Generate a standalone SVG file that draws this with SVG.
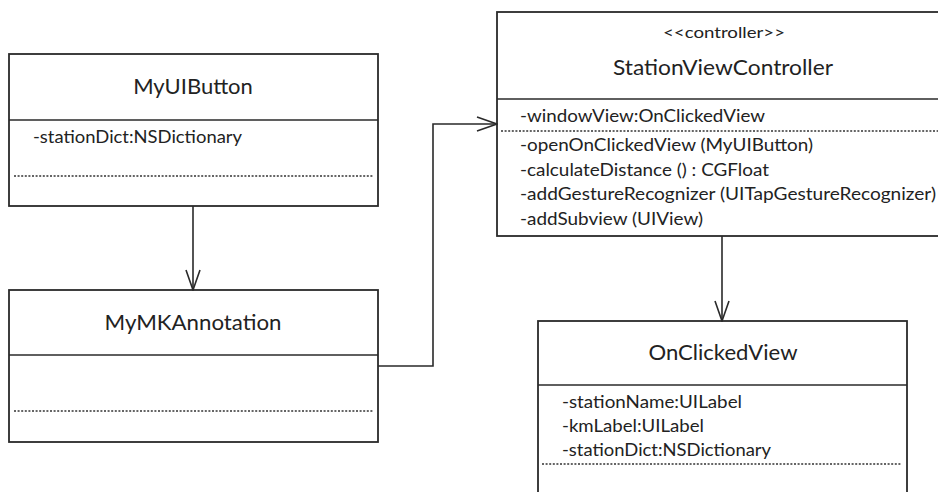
<svg xmlns="http://www.w3.org/2000/svg" width="938" height="492" viewBox="0 0 938 492">
<defs>
<marker id="open" viewBox="-1 -1 22 16" refX="20" refY="7" markerWidth="22" markerHeight="16" markerUnits="userSpaceOnUse" orient="auto">
<path d="M0,0 L20,7 L0,14" fill="none" stroke="#2a2a2a" stroke-width="1.6"/>
</marker>
<style>
.box{fill:#fff;stroke:#2a2a2a;stroke-width:1.8}
.div{stroke:#2a2a2a;stroke-width:1.6}
.dot{stroke:#333;stroke-width:1.3;stroke-dasharray:2 1.6}
.t{font-family:Lato,"Open Sans","Liberation Sans",sans-serif;fill:#222}
.title{font-size:22px;text-anchor:middle}
.st{font-size:16px;text-anchor:middle}
.m{font-size:18px}
.c{fill:none;stroke:#2a2a2a;stroke-width:1.6}
</style>
</defs>
<rect width="938" height="492" fill="#fff"/>
<g id="MyUIButton">
<rect class="box" x="9" y="54" width="369" height="152"/>
<line class="div" x1="9" y1="120" x2="378" y2="120"/>
<text class="t title" x="193" y="94">MyUIButton</text>
<text class="t m" x="33" y="143" textLength="209" lengthAdjust="spacingAndGlyphs">-stationDict:NSDictionary</text>
<line class="dot" x1="14" y1="176" x2="373" y2="176"/>
</g>
<g id="MyMKAnnotation">
<rect class="box" x="9" y="290" width="369" height="152"/>
<line class="div" x1="9" y1="355" x2="378" y2="355"/>
<text class="t title" x="193" y="330" textLength="177" lengthAdjust="spacingAndGlyphs">MyMKAnnotation</text>
<line class="dot" x1="14" y1="411" x2="373" y2="411"/>
</g>
<g id="StationViewController">
<rect class="box" x="497" y="12" width="460" height="224"/>
<line class="div" x1="497" y1="99" x2="938" y2="99"/>
<text class="t st" x="724" y="38" textLength="122" lengthAdjust="spacingAndGlyphs">&lt;&lt;controller&gt;&gt;</text>
<text class="t title" x="723" y="75" textLength="220" lengthAdjust="spacingAndGlyphs">StationViewController</text>
<text class="t m" x="520" y="122" textLength="245" lengthAdjust="spacingAndGlyphs">-windowView:OnClickedView</text>
<line class="dot" x1="501" y1="131" x2="938" y2="131"/>
<text class="t m" x="520" y="151" textLength="293" lengthAdjust="spacingAndGlyphs">-openOnClickedView (MyUIButton)</text>
<text class="t m" x="520" y="176" textLength="249" lengthAdjust="spacingAndGlyphs">-calculateDistance () : CGFloat</text>
<text class="t m" x="520" y="200" textLength="416" lengthAdjust="spacingAndGlyphs">-addGestureRecognizer (UITapGestureRecognizer)</text>
<text class="t m" x="520" y="225" textLength="183" lengthAdjust="spacingAndGlyphs">-addSubview (UIView)</text>
</g>
<g id="OnClickedView">
<rect class="box" x="538" y="321" width="369" height="200"/>
<line class="div" x1="538" y1="385" x2="907" y2="385"/>
<text class="t title" x="723" y="360" textLength="149" lengthAdjust="spacingAndGlyphs">OnClickedView</text>
<text class="t m" x="562" y="408" textLength="180" lengthAdjust="spacingAndGlyphs">-stationName:UILabel</text>
<text class="t m" x="562" y="432" textLength="142" lengthAdjust="spacingAndGlyphs">-kmLabel:UILabel</text>
<text class="t m" x="562" y="456" textLength="209" lengthAdjust="spacingAndGlyphs">-stationDict:NSDictionary</text>
<line class="dot" x1="542" y1="464" x2="902" y2="464"/>
</g>
<g id="connectors">
<path class="c" d="M193,206 V290" marker-end="url(#open)"/>
<path class="c" d="M378,366 H433 V124 H497" marker-end="url(#open)"/>
<path class="c" d="M722,236 V321" marker-end="url(#open)"/>
</g>
</svg>
